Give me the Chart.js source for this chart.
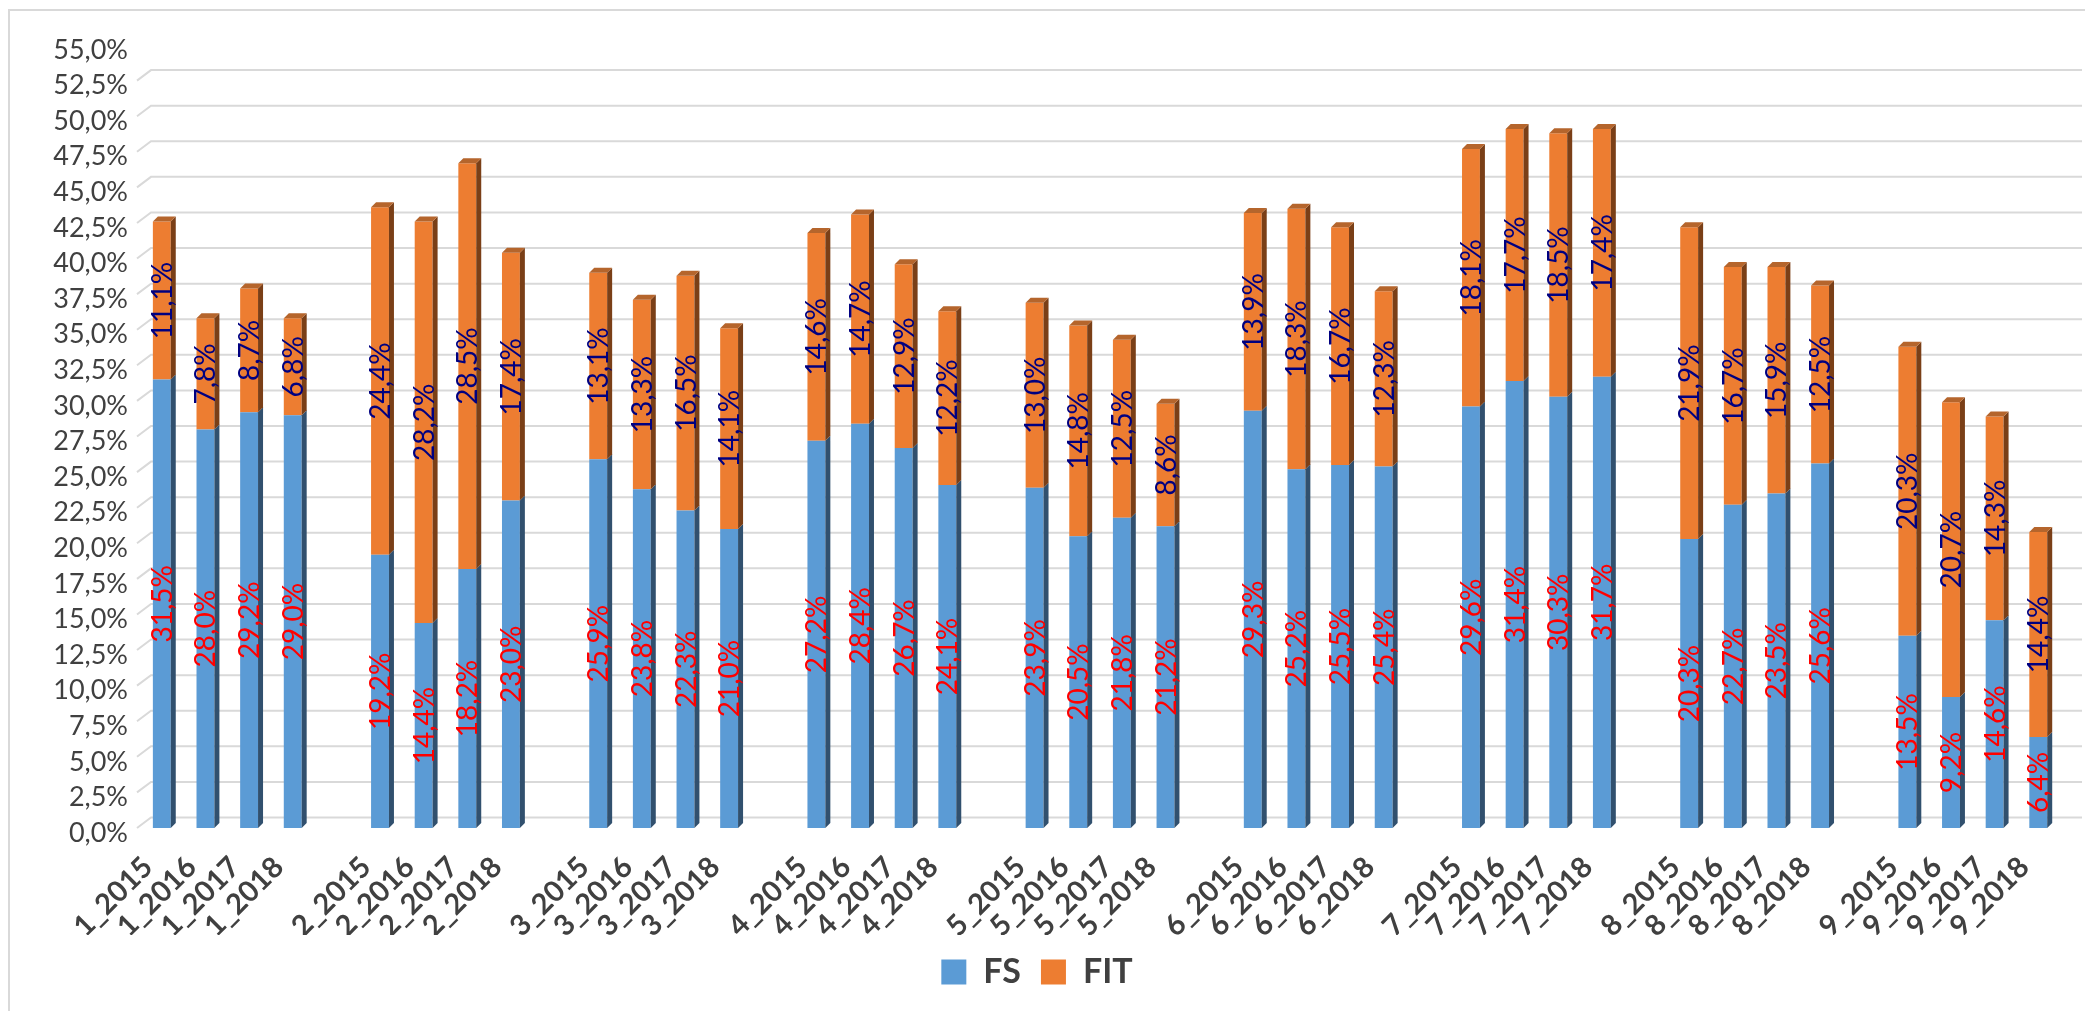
<!DOCTYPE html>
<html>
<head>
<meta charset="utf-8">
<script src="https://cdn.jsdelivr.net/npm/chart.js@4.4.1/dist/chart.umd.min.js"></script>
<style>
  html, body { margin: 0; padding: 0; background: #fff; overflow: hidden; }
  #frame { position: absolute; left: 8px; top: 9px; width: 2200px; height: 1200px; border: 2px solid #d9d9d9; }
  #chart { position: absolute; left: 0; top: 0; }
</style>
</head>
<body>
<div id="frame"></div>
<canvas id="chart" width="2085" height="1011"></canvas>
<script>
const regions = ['1', '2', '3', '4', '5', '6', '7', '8', '9'];
const years = ['2015', '2016', '2017', '2018'];

// FS / FIT in %, 4 years per region
const fsValues = [
  31.5, 28.0, 29.2, 29.0,
  19.2, 14.4, 18.2, 23.0,
  25.9, 23.8, 22.3, 21.0,
  27.2, 28.4, 26.7, 24.1,
  23.9, 20.5, 21.8, 21.2,
  29.3, 25.2, 25.5, 25.4,
  29.6, 31.4, 30.3, 31.7,
  20.3, 22.7, 23.5, 25.6,
  13.5, 9.2, 14.6, 6.4
];
const fitValues = [
  11.1, 7.8, 8.7, 6.8,
  24.4, 28.2, 28.5, 17.4,
  13.1, 13.3, 16.5, 14.1,
  14.6, 14.7, 12.9, 12.2,
  13.0, 14.8, 12.5, 8.6,
  13.9, 18.3, 16.7, 12.3,
  18.1, 17.7, 18.5, 17.4,
  21.9, 16.7, 15.9, 12.5,
  20.3, 20.7, 14.3, 14.4
];

// insert an empty slot between regions
const labels = [];
const fsData = [];
const fitData = [];
regions.forEach((r, i) => {
  if (i > 0) { labels.push(''); fsData.push(null); fitData.push(null); }
  years.forEach((y, j) => {
    labels.push(r + '_' + y);
    fsData.push(fsValues[i * 4 + j]);
    fitData.push(fitValues[i * 4 + j]);
  });
});

const pct = v => v.toFixed(1).replace('.', ',') + '%';

const DX = 5, DY = 5;
const sideColors = ['#31506e', '#7a3f17'];
const topColors = ['#3f6a94', '#b5652c'];
const labelColors = ['#ff0000', '#000080'];

const fake3d = {
  id: 'fake3d',
  beforeDatasetsDraw(chart) {
    const { ctx, chartArea, scales } = chart;
    ctx.save();
    ctx.strokeStyle = '#d9d9d9';
    ctx.lineWidth = 2;
    for (let v = 0; v < 55; v += 2.5) {
      const y = scales.y.getPixelForValue(v);
      ctx.beginPath();
      ctx.moveTo(chartArea.left - 3, y);
      ctx.lineTo(chartArea.left + 11, y - 10.5);
      ctx.lineTo(2082, y - 10.5);
      ctx.stroke();
    }
    ctx.restore();
  },
  afterDatasetsDraw(chart) {
    const { ctx } = chart;
    const last = chart.data.datasets.length - 1;
    ctx.save();
    chart.data.datasets.forEach((ds, di) => {
      const meta = chart.getDatasetMeta(di);
      meta.data.forEach((bar, i) => {
        if (ds.data[i] == null) return;
        const { x, y, base, width } = bar.getProps(['x', 'y', 'base', 'width'], true);
        const l = x - width / 2, r = x + width / 2;
        ctx.fillStyle = sideColors[di];
        ctx.beginPath();
        ctx.moveTo(r, y);
        ctx.lineTo(r + DX, y - DY);
        ctx.lineTo(r + DX, base - DY);
        ctx.lineTo(r, base);
        ctx.closePath();
        ctx.fill();
        if (di === last) {
          ctx.fillStyle = topColors[di];
          ctx.beginPath();
          ctx.moveTo(l, y);
          ctx.lineTo(l + DX, y - DY);
          ctx.lineTo(r + DX, y - DY);
          ctx.lineTo(r, y);
          ctx.closePath();
          ctx.fill();
        }
      });
    });
    // vertical value labels
    ctx.font = '28px Lato';
    ctx.textAlign = 'center';
    ctx.textBaseline = 'middle';
    chart.data.datasets.forEach((ds, di) => {
      const meta = chart.getDatasetMeta(di);
      ctx.fillStyle = labelColors[di];
      meta.data.forEach((bar, i) => {
        if (ds.data[i] == null) return;
        const { x, y, base } = bar.getProps(['x', 'y', 'base'], true);
        ctx.save();
        ctx.translate(x + 1, (y + base) / 2);
        ctx.rotate(-Math.PI / 2);
        ctx.fillText(pct(ds.data[i]), 0, 0);
        ctx.restore();
      });
    });
    ctx.restore();
  }
};

new Chart(document.getElementById('chart'), {
  type: 'bar',
  data: {
    labels: labels,
    datasets: [
      { label: 'FS', data: fsData, backgroundColor: '#5b9bd5', borderWidth: 0 },
      { label: 'FIT', data: fitData, backgroundColor: '#ed7d31', borderWidth: 0 }
    ]
  },
  options: {
    responsive: false,
    animation: false,
    devicePixelRatio: 1,
    layout: { padding: { left: 0, right: 11, top: 45, bottom: 12 } },
    datasets: { bar: { categoryPercentage: 1, barPercentage: 0.41 } },
    plugins: {
      tooltip: { enabled: false },
      legend: {
        position: 'bottom',
        labels: {
          boxWidth: 25, boxHeight: 25, padding: 20,
          color: '#404040',
          font: { family: 'Lato', size: 34, weight: 'bold', lineHeight: 1 }
        }
      }
    },
    scales: {
      x: {
        stacked: true,
        grid: { display: false, drawTicks: false },
        border: { display: false },
        ticks: {
          autoSkip: false, minRotation: 45, maxRotation: 45,
          padding: 22, labelOffset: -14,
          color: '#404040',
          font: { family: 'Lato', size: 29, weight: 'bold' }
        },
        afterFit(scale) { scale.height = 107; }
      },
      y: {
        stacked: true,
        min: 0, max: 55,
        grid: { display: false, drawTicks: false },
        border: { display: false },
        ticks: {
          stepSize: 2.5, padding: 12, labelOffset: 5,
          color: '#404040',
          font: { family: 'Lato', size: 27 },
          callback: v => pct(v)
        },
        afterFit(scale) { scale.width = 140; }
      }
    }
  },
  plugins: [fake3d]
});
</script>
</body>
</html>
